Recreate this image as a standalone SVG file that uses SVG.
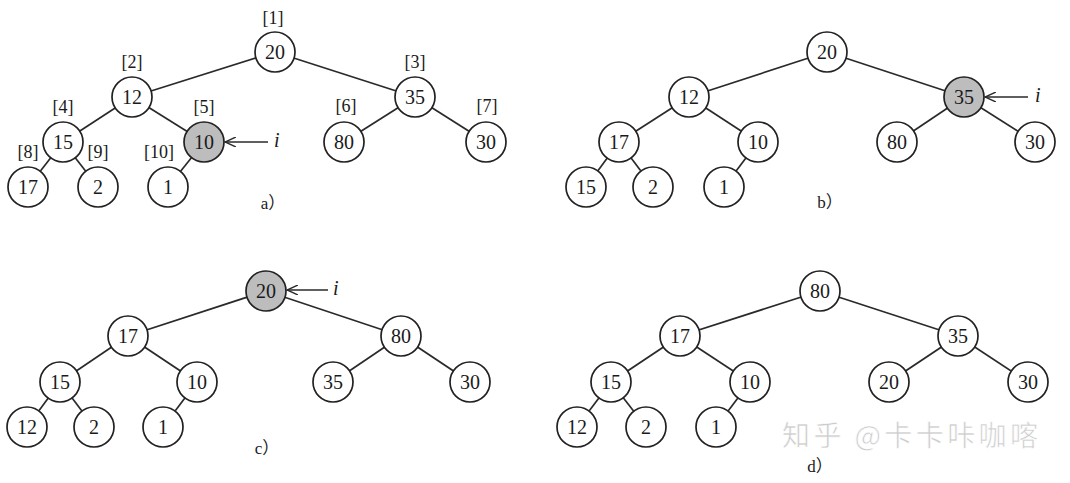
<svg xmlns="http://www.w3.org/2000/svg" width="1070" height="483" viewBox="0 0 1070 483">
<style>
.e{stroke:#2a2a2a;stroke-width:1.7;fill:none}
.n circle{fill:#fff;stroke:#222;stroke-width:1.7}
.n.h circle{fill:#bdbdbd}
.n text{font-family:"Liberation Serif",serif;font-size:20px;fill:#1a1a1a;text-anchor:middle}
.lb{font-family:"Liberation Serif",serif;font-size:18px;fill:#1a1a1a;text-anchor:middle}
.i{font-family:"Liberation Serif",serif;font-size:20px;font-style:italic;fill:#1a1a1a}
.cap{font-family:"Liberation Serif","Noto Sans CJK SC",serif;font-size:17px;fill:#1a1a1a;text-anchor:middle}
.ar{stroke:#2a2a2a;stroke-width:1.4;fill:none;marker-end:url(#open)}
.wm{font-family:"Noto Sans CJK SC",sans-serif;font-size:28px;fill:#cccccc;stroke:#ffffff;stroke-width:0.6}
</style>
<defs>
<marker id="open" viewBox="0 0 12 10" refX="11" refY="5" markerWidth="12" markerHeight="10" markerUnits="userSpaceOnUse" orient="auto">
<path d="M0,0 L11,5 L0,10" fill="none" stroke="#2a2a2a" stroke-width="1.4"/>
</marker>
</defs>
<rect width="1070" height="483" fill="#fff"/>
<g id="connectors">
<line class="e" x1="275" y1="52" x2="132" y2="97"/>
<line class="e" x1="275" y1="52" x2="415" y2="97"/>
<line class="e" x1="132" y1="97" x2="63" y2="142"/>
<line class="e" x1="132" y1="97" x2="204" y2="142"/>
<line class="e" x1="63" y1="142" x2="28" y2="187"/>
<line class="e" x1="63" y1="142" x2="98" y2="187"/>
<line class="e" x1="204" y1="142" x2="168" y2="187"/>
<line class="e" x1="415" y1="97" x2="344" y2="142"/>
<line class="e" x1="415" y1="97" x2="486" y2="142"/>
<line class="ar" x1="268" y1="142" x2="225" y2="142"/>
<line class="e" x1="827" y1="52" x2="689" y2="97"/>
<line class="e" x1="827" y1="52" x2="964" y2="97"/>
<line class="e" x1="689" y1="97" x2="619" y2="142"/>
<line class="e" x1="689" y1="97" x2="758" y2="142"/>
<line class="e" x1="619" y1="142" x2="586" y2="187"/>
<line class="e" x1="619" y1="142" x2="653" y2="187"/>
<line class="e" x1="758" y1="142" x2="724" y2="187"/>
<line class="e" x1="964" y1="97" x2="897" y2="142"/>
<line class="e" x1="964" y1="97" x2="1035" y2="142"/>
<line class="ar" x1="1028" y1="97" x2="985" y2="97"/>
<line class="e" x1="266" y1="291" x2="128" y2="336"/>
<line class="e" x1="266" y1="291" x2="401" y2="336"/>
<line class="e" x1="128" y1="336" x2="60" y2="382"/>
<line class="e" x1="128" y1="336" x2="197" y2="382"/>
<line class="e" x1="60" y1="382" x2="27" y2="427"/>
<line class="e" x1="60" y1="382" x2="94" y2="427"/>
<line class="e" x1="197" y1="382" x2="163" y2="427"/>
<line class="e" x1="401" y1="336" x2="333" y2="382"/>
<line class="e" x1="401" y1="336" x2="470" y2="382"/>
<line class="ar" x1="328" y1="290" x2="287" y2="290"/>
<line class="e" x1="820" y1="291" x2="680" y2="336"/>
<line class="e" x1="820" y1="291" x2="958" y2="336"/>
<line class="e" x1="680" y1="336" x2="611" y2="382"/>
<line class="e" x1="680" y1="336" x2="750" y2="382"/>
<line class="e" x1="611" y1="382" x2="577" y2="427"/>
<line class="e" x1="611" y1="382" x2="646" y2="427"/>
<line class="e" x1="750" y1="382" x2="716" y2="427"/>
<line class="e" x1="958" y1="336" x2="889" y2="382"/>
<line class="e" x1="958" y1="336" x2="1028" y2="382"/>
</g>
<g id="a1" class="n"><circle cx="275" cy="52" r="20"/><text x="275" y="59">20</text></g>
<g id="a2" class="n"><circle cx="132" cy="97" r="20"/><text x="132" y="104">12</text></g>
<g id="a3" class="n"><circle cx="415" cy="97" r="20"/><text x="415" y="104">35</text></g>
<g id="a4" class="n"><circle cx="63" cy="142" r="20"/><text x="63" y="149">15</text></g>
<g id="a5" class="n h"><circle cx="204" cy="142" r="20"/><text x="204" y="149">10</text></g>
<g id="a6" class="n"><circle cx="344" cy="142" r="20"/><text x="344" y="149">80</text></g>
<g id="a7" class="n"><circle cx="486" cy="142" r="20"/><text x="486" y="149">30</text></g>
<g id="a8" class="n"><circle cx="28" cy="187" r="20"/><text x="28" y="194">17</text></g>
<g id="a9" class="n"><circle cx="98" cy="187" r="20"/><text x="98" y="194">2</text></g>
<g id="a10" class="n"><circle cx="168" cy="187" r="20"/><text x="168" y="194">1</text></g>
<g id="a-labels">
<text class="lb" x="273" y="24">[1]</text>
<text class="lb" x="132" y="68">[2]</text>
<text class="lb" x="415" y="68">[3]</text>
<text class="lb" x="63" y="113">[4]</text>
<text class="lb" x="204" y="113">[5]</text>
<text class="lb" x="346" y="112">[6]</text>
<text class="lb" x="487" y="112">[7]</text>
<text class="lb" x="28" y="158">[8]</text>
<text class="lb" x="98" y="158">[9]</text>
<text class="lb" x="159" y="158">[10]</text>
<text class="i" x="274" y="147">i</text>
<text class="cap" x="273" y="209">a）</text>
</g>
<g id="b1" class="n"><circle cx="827" cy="52" r="20"/><text x="827" y="59">20</text></g>
<g id="b2" class="n"><circle cx="689" cy="97" r="20"/><text x="689" y="104">12</text></g>
<g id="b3" class="n h"><circle cx="964" cy="97" r="20"/><text x="964" y="104">35</text></g>
<g id="b4" class="n"><circle cx="619" cy="142" r="20"/><text x="619" y="149">17</text></g>
<g id="b5" class="n"><circle cx="758" cy="142" r="20"/><text x="758" y="149">10</text></g>
<g id="b6" class="n"><circle cx="897" cy="142" r="20"/><text x="897" y="149">80</text></g>
<g id="b7" class="n"><circle cx="1035" cy="142" r="20"/><text x="1035" y="149">30</text></g>
<g id="b8" class="n"><circle cx="586" cy="187" r="20"/><text x="586" y="194">15</text></g>
<g id="b9" class="n"><circle cx="653" cy="187" r="20"/><text x="653" y="194">2</text></g>
<g id="b10" class="n"><circle cx="724" cy="187" r="20"/><text x="724" y="194">1</text></g>
<g id="b-labels">
<text class="i" x="1035" y="102">i</text>
<text class="cap" x="830" y="208">b）</text>
</g>
<g id="c1" class="n h"><circle cx="266" cy="291" r="20"/><text x="266" y="298">20</text></g>
<g id="c2" class="n"><circle cx="128" cy="336" r="20"/><text x="128" y="343">17</text></g>
<g id="c3" class="n"><circle cx="401" cy="336" r="20"/><text x="401" y="343">80</text></g>
<g id="c4" class="n"><circle cx="60" cy="382" r="20"/><text x="60" y="389">15</text></g>
<g id="c5" class="n"><circle cx="197" cy="382" r="20"/><text x="197" y="389">10</text></g>
<g id="c6" class="n"><circle cx="333" cy="382" r="20"/><text x="333" y="389">35</text></g>
<g id="c7" class="n"><circle cx="470" cy="382" r="20"/><text x="470" y="389">30</text></g>
<g id="c8" class="n"><circle cx="27" cy="427" r="20"/><text x="27" y="434">12</text></g>
<g id="c9" class="n"><circle cx="94" cy="427" r="20"/><text x="94" y="434">2</text></g>
<g id="c10" class="n"><circle cx="163" cy="427" r="20"/><text x="163" y="434">1</text></g>
<g id="c-labels">
<text class="i" x="333" y="295">i</text>
<text class="cap" x="267" y="454">c）</text>
</g>
<g id="d1" class="n"><circle cx="820" cy="291" r="20"/><text x="820" y="298">80</text></g>
<g id="d2" class="n"><circle cx="680" cy="336" r="20"/><text x="680" y="343">17</text></g>
<g id="d3" class="n"><circle cx="958" cy="336" r="20"/><text x="958" y="343">35</text></g>
<g id="d4" class="n"><circle cx="611" cy="382" r="20"/><text x="611" y="389">15</text></g>
<g id="d5" class="n"><circle cx="750" cy="382" r="20"/><text x="750" y="389">10</text></g>
<g id="d6" class="n"><circle cx="889" cy="382" r="20"/><text x="889" y="389">20</text></g>
<g id="d7" class="n"><circle cx="1028" cy="382" r="20"/><text x="1028" y="389">30</text></g>
<g id="d8" class="n"><circle cx="577" cy="427" r="20"/><text x="577" y="434">12</text></g>
<g id="d9" class="n"><circle cx="646" cy="427" r="20"/><text x="646" y="434">2</text></g>
<g id="d10" class="n"><circle cx="716" cy="427" r="20"/><text x="716" y="434">1</text></g>
<g id="d-labels">
<text class="cap" x="820" y="472">d）</text>
</g>
<text class="wm" x="782" y="446" textLength="256" lengthAdjust="spacing">知乎 @卡卡咔咖喀</text>
</svg>
